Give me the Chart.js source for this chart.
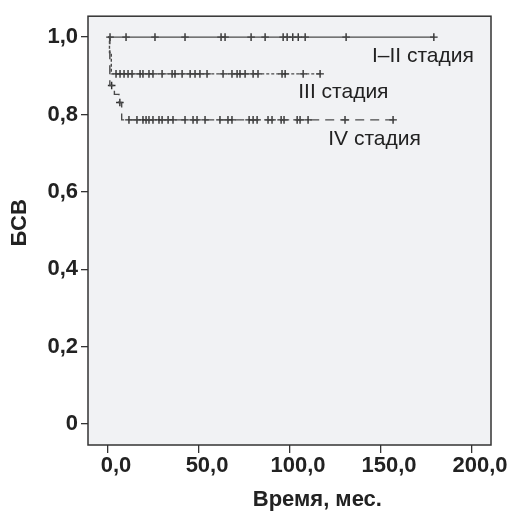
<!DOCTYPE html>
<html>
<head>
<meta charset="utf-8">
<script src="https://cdn.jsdelivr.net/npm/chart.js@4"></script>
<style>
  html, body { margin: 0; padding: 0; background: #ffffff; }
  #wrap { width: 516px; height: 512px; }
</style>
</head>
<body>
<div id="wrap"><canvas id="myChart" width="516" height="512"></canvas></div>
<script>
// Stage names (curve labels)
var stageNames = ['I–II стадия', 'III стадия', 'IV стадия'];

// Kaplan-Meier steps: time of event (months) and survival after it
var stage12Times = [0, 179];
var stage12Surv = [1.0, 1.0];
var stage3Times = [0, 0.8, 1.8, 116.5];
var stage3Surv = [1.0, 0.96, 0.905, 0.905];
var stage4Times = [0, 1.0, 3.5, 6.0, 7.5, 156.6];
var stage4Surv = [1.0, 0.875, 0.852, 0.831, 0.786, 0.786];

// Censored observations (months)
var stage12Cens = [1.1, 9.9, 25.8, 42.3, 62.1, 64.3, 78.6, 86.3, 96.2, 98.4, 101.5, 104.5, 108.3, 130.8, 179];
var stage3Cens = [4.4, 6.6, 8.8, 11.0, 13.2, 17.6, 19.2, 22.5, 24.7, 29.7, 35.2, 36.8, 40.7, 45.1, 47.8,
    50.5, 54.4, 63.2, 68.1, 70.9, 72.5, 75.3, 79.7, 82.4, 95.6, 97.3, 107.2, 116.5];
var stage4Cens = [2.0, 6.5, 11.5, 15.9, 19.2, 20.9, 22.5, 24.7, 28.0, 29.7, 33.0, 35.7, 42.3, 46.7, 48.9,
    53.3, 61.5, 65.9, 68.1, 77.5, 79.7, 81.9, 87.9, 90.1, 95.1, 96.7, 103.9, 105.5, 109.9, 130.2, 156.6];

// Axis ticks and titles
var xTicks = [0, 50, 100, 150, 200];
var xTickLabels = ['0,0', '50,0', '100,0', '150,0', '200,0'];
var yTicks = [0, 0.2, 0.4, 0.6, 0.8, 1.0];
var yTickLabels = ['0', '0,2', '0,4', '0,6', '0,8', '1,0'];
var xTitle = 'Время, мес.';
var yTitle = 'БСВ';

// where the curve names are written (data units)
var labelSpots = [
    { x: 145, y: 0.951 },
    { x: 104.5, y: 0.857 },
    { x: 121, y: 0.737 }
];

// survival level at time t for a step curve
function levelAt(times, surv, t) {
    var v = surv[0];
    for (var i = 0; i < times.length; i++) {
        if (times[i] <= t) v = surv[i];
    }
    return v;
}

function toPoints(times, surv) {
    return times.map(function (t, i) { return { x: t, y: surv[i] }; });
}

function censPoints(cens, times, surv) {
    return cens.map(function (t) { return { x: t, y: levelAt(times, surv, t) }; });
}

var lineColor = '#4a4a4a';
var markColor = '#2e2e2e';
var fontFamily = '"Liberation Sans", Arial, sans-serif';

function curve(data, dash) {
    return {
        type: 'line',
        data: data,
        stepped: 'before',
        borderColor: lineColor,
        borderWidth: 1.4,
        borderDash: dash,
        pointRadius: 0,
        fill: false
    };
}

function marks(data) {
    return {
        type: 'scatter',
        data: data,
        showLine: false,
        pointStyle: 'cross',
        pointRadius: 3.8,
        pointBorderWidth: 1.4,
        pointBorderColor: markColor,
        pointBackgroundColor: markColor
    };
}

// grey plot area + frame + curve names + axis titles
var plotDecor = {
    id: 'plotDecor',
    beforeDatasetsDraw: function (chart) {
        var a = chart.chartArea, ctx = chart.ctx;
        ctx.save();
        ctx.fillStyle = '#f1f2f4';
        ctx.fillRect(a.left, a.top, a.right - a.left, a.bottom - a.top);
        ctx.restore();
    },
    afterDraw: function (chart) {
        var a = chart.chartArea, ctx = chart.ctx;
        var xs = chart.scales.x, ys = chart.scales.y;
        ctx.save();
        ctx.strokeStyle = '#333333';
        ctx.lineWidth = 1.5;
        ctx.strokeRect(a.left, a.top, a.right - a.left, a.bottom - a.top);

        ctx.fillStyle = '#222222';
        ctx.font = '21px ' + fontFamily;
        ctx.textBaseline = 'middle';
        ctx.textAlign = 'left';
        stageNames.forEach(function (name, i) {
            ctx.fillText(name, xs.getPixelForValue(labelSpots[i].x), ys.getPixelForValue(labelSpots[i].y));
        });

        // axis titles
        ctx.font = 'bold 22px ' + fontFamily;
        ctx.textAlign = 'center';
        ctx.fillText(xTitle, xs.getPixelForValue(115), 500);
        ctx.translate(20, ys.getPixelForValue(0.52));
        ctx.rotate(-Math.PI / 2);
        ctx.fillText(yTitle, 0, 0);
        ctx.restore();
    }
};

var tickFont = { family: fontFamily, size: 22, weight: 'bold' };

var ctx = document.getElementById('myChart').getContext('2d');
var chart = new Chart(ctx, {
    data: {
        datasets: [
            curve(toPoints(stage12Times, stage12Surv), []),
            curve(toPoints(stage3Times, stage3Surv), [3, 2]),
            curve(toPoints(stage4Times, stage4Surv), [9, 6]),
            marks(censPoints(stage12Cens, stage12Times, stage12Surv)),
            marks(censPoints(stage3Cens, stage3Times, stage3Surv)),
            marks(censPoints(stage4Cens, stage4Times, stage4Surv))
        ]
    },
    options: {
        responsive: false,
        animation: false,
        layout: { padding: { top: 13, right: 25, left: 0, bottom: 0 } },
        plugins: { legend: { display: false }, tooltip: { enabled: false } },
        scales: {
            x: {
                type: 'linear',
                min: -11,
                max: 210.4,
                afterBuildTicks: function (s) { s.ticks = xTicks.map(function (v) { return { value: v }; }); },
                afterFit: function (s) { s.height = 67; },
                ticks: {
                    color: '#222222',
                    font: tickFont,
                    padding: 0,
                    labelOffset: 8,
                    maxRotation: 0,
                    callback: function (v) { return xTickLabels[xTicks.indexOf(v)]; }
                },
                grid: { drawOnChartArea: false, tickLength: 8, color: '#333333', lineWidth: 1.3 },
                border: { display: false }
            },
            y: {
                type: 'linear',
                min: -0.054,
                max: 1.054,
                afterBuildTicks: function (s) { s.ticks = yTicks.map(function (v) { return { value: v }; }); },
                afterFit: function (s) { s.width = 88; },
                ticks: {
                    color: '#222222',
                    font: tickFont,
                    padding: 3,
                    callback: function (v) {
                        var i = yTicks.findIndex(function (t) { return Math.abs(t - v) < 1e-6; });
                        return yTickLabels[i];
                    }
                },
                grid: { drawOnChartArea: false, tickLength: 7, color: '#333333', lineWidth: 1.3 },
                border: { display: false }
            }
        }
    },
    plugins: [plotDecor]
});
</script>
</body>
</html>
